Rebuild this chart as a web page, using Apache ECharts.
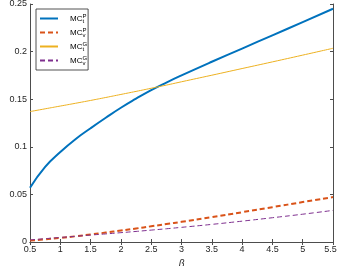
<!DOCTYPE html>
<html>
<head>
<meta charset="utf-8">
<script src="https://cdn.jsdelivr.net/npm/echarts@6/dist/echarts.min.js"></script>
<style>html,body{margin:0;padding:0;background:#fff}#c{width:337px;height:266px}</style>
</head>
<body>
<div id="c"></div>
<script>
var beta = [0.5, 0.75, 1, 1.25, 1.5, 1.75, 2, 2.25, 2.5, 2.75, 3, 3.5, 4, 4.5, 5, 5.5];
var mcTP = [0.057, 0.079, 0.0945, 0.108, 0.1195, 0.1305, 0.141, 0.1505, 0.1595, 0.1675, 0.175, 0.1893, 0.2032, 0.2171, 0.231, 0.245];
var mcVP = [0.0015, 0.0028, 0.0043, 0.006, 0.0079, 0.0099, 0.012, 0.0142, 0.0165, 0.0188, 0.0212, 0.0261, 0.0313, 0.0366, 0.0419, 0.0472];
var mcTG = [0.137, 0.1399, 0.1428, 0.1457, 0.1487, 0.1518, 0.155, 0.1582, 0.1615, 0.1648, 0.1683, 0.1752, 0.1822, 0.1892, 0.1963, 0.2035];
var mcVG = [0.0022, 0.0035, 0.0048, 0.006, 0.0073, 0.0085, 0.0098, 0.0111, 0.0125, 0.0139, 0.0154, 0.0185, 0.0219, 0.0255, 0.0292, 0.0332];
var xTicks = [0.5, 1, 1.5, 2, 2.5, 3, 3.5, 4, 4.5, 5, 5.5];
var yTicks = [0, 0.05, 0.1, 0.15, 0.2, 0.25];

function pairs(v){ return beta.map(function(b,i){ return [b, v[i]]; }); }

var font = 'Liberation Sans, Arial, sans-serif';
var axisCol = '#4d4d4d';
var chart = echarts.init(document.getElementById('c'), null, {renderer: 'canvas'});
var baseAxis = {
  axisLine: {show: true, lineStyle: {color: axisCol, width: 1}},
  axisTick: {show: true, inside: true, length: 3, lineStyle: {color: axisCol}},
  splitLine: {show: false},
  axisLabel: {color: '#262626', fontSize: 9, fontFamily: font}
};
var names = ['MC{s|t}{p|P}', 'MC{s|v}{p|P}', 'MC{s|t}{p|G}', 'MC{s|v}{p|G}'];
chart.setOption({
  animation: false,
  grid: {left: 30, right: 4, top: 4, bottom: 24, containLabel: false, outerBoundsMode: 'none'},
  xAxis: [
    Object.assign({}, baseAxis, {type: 'value', min: 0.5, max: 5.5, interval: 0.5,
      name: 'β', nameLocation: 'middle', nameGap: 15,
      nameTextStyle: {fontStyle: 'italic', fontSize: 10, color: '#262626', fontFamily: font},
      axisLabel: {color: '#262626', fontSize: 9, fontFamily: font, margin: 3,
        formatter: function(v){ return v === xTicks[xTicks.length-1] ? '{r|' + v + '}' : String(v); },
        rich: {r: {fontSize: 9, fontFamily: font, color: '#262626', padding: [0, 5, 0, 0]}}}}),
    Object.assign({}, baseAxis, {type: 'value', min: 0.5, max: 5.5, interval: 0.5, position: 'top',
      axisLabel: {show: false}})
  ],
  yAxis: [
    Object.assign({}, baseAxis, {type: 'value', min: 0, max: 0.25, interval: 0.05,
      name: 'Marginal Cost of Public Funds', nameLocation: 'middle', nameGap: 26,
      nameTextStyle: {fontSize: 9, color: '#262626', fontFamily: font},
      axisLabel: {color: '#262626', fontSize: 9, fontFamily: font, margin: 3,
        formatter: function(v){ return String(Math.round(v*100)/100); }}}),
    Object.assign({}, baseAxis, {type: 'value', min: 0, max: 0.25, interval: 0.05, position: 'right',
      axisLabel: {show: false}})
  ],
  legend: {
    orient: 'vertical', left: 36, top: 9,
    padding: [4, 1, 4, 3],
    itemWidth: 18, itemHeight: 8, itemGap: 3,
    itemStyle: {opacity: 0},
    formatter: function(n){ return '{g|}' + n; },
    backgroundColor: '#fff', borderColor: '#262626', borderWidth: 0.8, borderRadius: 0,
    textStyle: {fontSize: 8, color: '#000', fontFamily: font,
      rich: {
        g: {width: 7},
        s: {fontSize: 6, verticalAlign: 'bottom', width: 0, padding: [5, 0, 0, 0], fontFamily: font, color: '#000'},
        p: {fontSize: 6, verticalAlign: 'top', padding: [0, 0, 5, 0], fontFamily: font, color: '#000'}
      }},
    data: names
  },
  series: [
    {name: names[0], type: 'line', data: pairs(mcTP), symbol: 'none', smooth: true,
      lineStyle: {color: '#0072BD', width: 2}, itemStyle: {color: '#0072BD'}},
    {name: names[1], type: 'line', data: pairs(mcVP), symbol: 'none', smooth: true,
      lineStyle: {color: '#D95319', width: 2, type: [5, 3]}, itemStyle: {color: '#D95319'}},
    {name: names[2], type: 'line', data: pairs(mcTG), symbol: 'none', smooth: true,
      lineStyle: {color: '#EDB120', width: 1}, itemStyle: {color: '#EDB120'}},
    {name: names[3], type: 'line', data: pairs(mcVG), symbol: 'none', smooth: true,
      lineStyle: {color: '#7E2F8E', width: 1, type: [5, 3]}, itemStyle: {color: '#7E2F8E'}}
  ]
});
</script>
</body>
</html>
